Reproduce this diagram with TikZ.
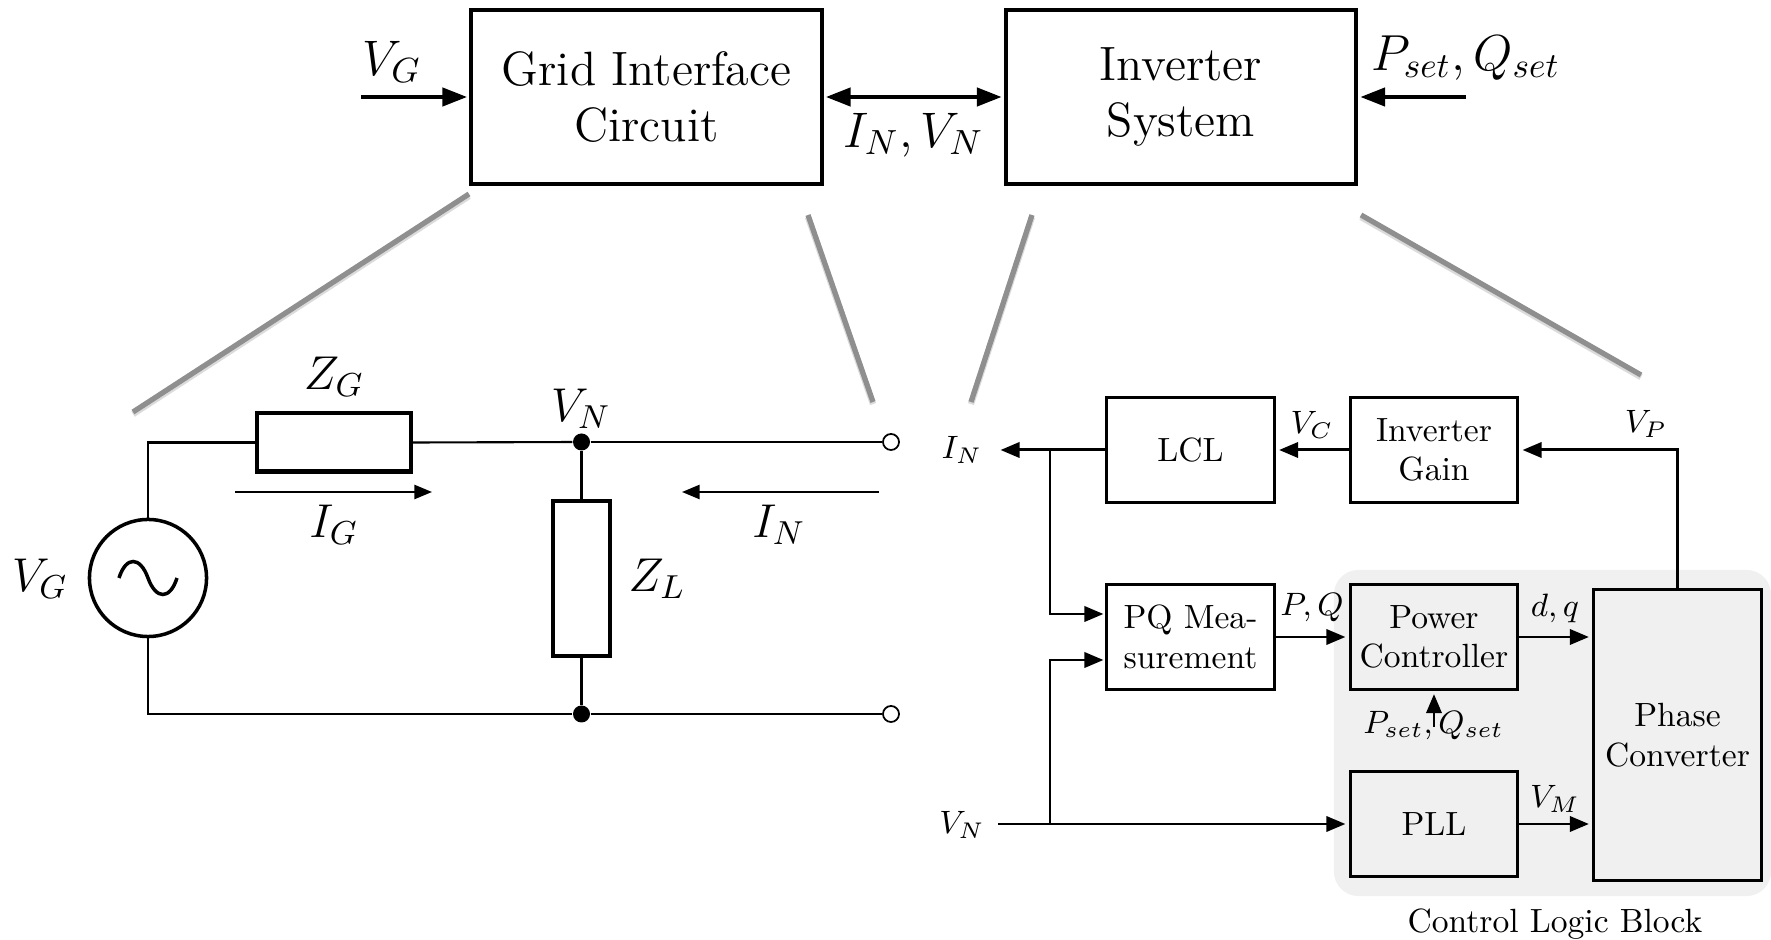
\RequirePackage{fix-cm}
\documentclass[tikz,border=0pt]{standalone}
\usepackage{amsmath}
\usepackage{xcolor}
\usetikzlibrary{arrows.meta}

\definecolor{linkgray}{HTML}{8F8F8F}
\definecolor{blockgray}{HTML}{F0F0F0}

\tikzset{
    bigfont/.style={font=\fontsize{13.7}{16}\selectfont},
    topmath/.style={font=\fontsize{14.2}{16}\selectfont, inner sep=0pt},
    bigmath/.style={font=\fontsize{13.5}{16}\selectfont, inner sep=0pt},
    smallfont/.style={font=\fontsize{9.55}{11.3}\selectfont},
    smallmath/.style={font=\fontsize{9.2}{11}\selectfont, inner sep=0pt},
    topbox/.style={draw, line width=1.1pt, inner sep=0pt, minimum width=3.5cm, minimum height=1.74cm, align=center, bigfont},
    logicbox/.style={draw, line width=0.85pt, inner sep=0pt, minimum width=1.67cm, minimum height=1.04cm, align=center, smallfont},
    impedance/.style={draw, line width=1.15pt, inner sep=0pt},
    toparrow/.style={line width=1pt, -{Triangle[length=7pt, width=5.2pt]}, shorten >=0.7pt},
    botharrow/.style={line width=1pt, {Triangle[length=7pt, width=5.2pt]}-{Triangle[length=7pt, width=5.2pt]}, shorten >=0.7pt, shorten <=0.7pt},
    logicarrow/.style={line width=0.85pt, -{Triangle[length=5.4pt, width=4.3pt]}, shorten >=1pt},
    currentarrow/.style={line width=0.6pt, -{Triangle[length=5pt, width=4pt]}},
    wire/.style={line width=0.6pt},
    zoomline/.style={linkgray, line width=1.5pt, preaction={draw=black!14, line width=1.8pt, transform canvas={yshift=-0.6pt}}},
    joint/.style={circle, fill=black, inner sep=0pt, minimum size=0.17cm},
    terminal/.style={circle, draw, fill=white, line width=0.5pt, inner sep=0pt, minimum size=0.16cm}
}

\begin{document}
\begin{tikzpicture}[x=0.01cm, y=-0.01cm]
        \useasboundingbox (0,0) rectangle (1771,940);

        % Top level blocks
        \node[topbox] (grid) at (646.5,97) {Grid Interface\\Circuit};
        \node[topbox] (inverter) at (1181,97) {Inverter\\System};
        \coordinate (vgin) at (361,97);
        \coordinate (psetin) at (1466,97);
        \draw[toparrow] (vgin) -- (grid.west);
        \draw[toparrow] (psetin) -- (inverter.east);
        \draw[botharrow] (grid.east) -- (inverter.west);
        \node[topmath] (vgtop) at (392,62) {$V_G$};
        \node[topmath, font=\fontsize{14.4}{16}\selectfont] (psettop) at (1466,58) {$P_{set},Q_{set}$};
        \node[topmath] (intop) at (913.5,135) {$I_N,V_N$};

        % Zoom lines
        \coordinate (zoomA) at (469,194);
        \coordinate (zoomB) at (133,412);
        \coordinate (zoomC) at (808,215);
        \coordinate (zoomD) at (873,402);
        \coordinate (zoomE) at (1032,215);
        \coordinate (zoomF) at (971,402);
        \coordinate (zoomG) at (1361,215);
        \coordinate (zoomH) at (1641,375);
        \draw[zoomline] (zoomA) -- (zoomB);
        \draw[zoomline] (zoomC) -- (zoomD);
        \draw[zoomline] (zoomE) -- (zoomF);
        \draw[zoomline] (zoomG) -- (zoomH);

        % Grid circuit
        \node[circle, draw, line width=1pt, inner sep=0pt, minimum size=1.17cm] (source) at (148,578) {};
        \node[impedance, minimum width=1.54cm, minimum height=0.58cm] (zg) at (334,442.5) {};
        \node[impedance, minimum width=0.575cm, minimum height=1.54cm] (zl) at (581.5,578.5) {};
        \node[joint] (topdot) at (581.5,442) {};
        \node[joint] (botdot) at (581.5,714) {};
        \node[terminal] (topend) at (891,442) {};
        \node[terminal] (botend) at (891,714) {};
        \draw[wire] (source.north) |- (zg.west);
        \draw[wire] (zg.east) -- (topdot);
        \draw[wire] (topdot) -- (topend);
        \draw[wire] (source.south) |- (botdot);
        \draw[wire] (botdot) -- (botend);
        \draw[wire] (topdot) -- (zl.north);
        \draw[wire] (zl.south) -- (botdot);
        \draw[line width=1pt] (119,578) .. controls (126,556) and (140,556) .. (148,578) .. controls (156,600) and (170,600) .. (177,578);

        % Currents
        \coordinate (igfrom) at (235,492);
        \coordinate (igto) at (432,492);
        \coordinate (infrom) at (879,492);
        \coordinate (into) at (682,492);
        \draw[currentarrow] (igfrom) -- (igto);
        \draw[currentarrow] (infrom) -- (into);

        % Circuit labels
        \node[bigmath] (zglabel) at (334,377) {$Z_G$};
        \node[bigmath] (vnlabel) at (581,409) {$V_N$};
        \node[bigmath] (iglabel) at (334,525) {$I_G$};
        \node[bigmath] (inlabel) at (779,525) {$I_N$};
        \node[bigmath] (vglabel) at (40,579) {$V_G$};
        \node[bigmath] (zllabel) at (657,579) {$Z_L$};

        % Control logic
        \node[fill=blockgray, rounded corners=7pt, inner sep=0pt, minimum width=4.37cm, minimum height=3.26cm] (logic) at (1552.5,733) {};
        \node[smallfont] (logiclabel) at (1555,924) {Control Logic Block};
        \node[logicbox] (lcl) at (1190.5,450) {LCL};
        \node[logicbox] (gain) at (1434,450) {Inverter\\Gain};
        \node[logicbox] (pq) at (1190.5,637) {PQ Mea-\\surement};
        \node[logicbox] (power) at (1434,637) {Power\\Controller};
        \node[logicbox] (pll) at (1434,824) {PLL};
        \node[logicbox, minimum height=2.9cm] (phase) at (1677.5,735) {Phase\\Converter};

        % Logic connections
        \coordinate (inout) at (997,450);
        \coordinate (vnin) at (998,824);
        \coordinate (branchI) at (1050,450);
        \coordinate (branchV) at (1050,824);
        \coordinate (pqup) at (1107,614);
        \coordinate (pqdown) at (1107,660);
        \coordinate (psetfrom) at (1434,727);
        \draw[logicarrow] (lcl.west) -- (inout);
        \draw[logicarrow] (gain.west) -- (lcl.east);
        \draw[logicarrow] (phase.north) |- (gain.east);
        \draw[logicarrow] (pq.east) -- (power.west);
        \draw[logicarrow] (power.east) -- (power.east -| phase.west);
        \draw[logicarrow] (pll.east) -- (pll.east -| phase.west);
        \draw[logicarrow] (vnin) -- (pll.west);
        \draw[logicarrow] (branchI) |- (pqup);
        \draw[logicarrow] (branchV) |- (pqdown);
        \draw[logicarrow] (psetfrom) -- (power.south);

        % Logic labels
        \node[smallmath] (inright) at (962,450) {$I_N$};
        \node[smallmath] (vnright) at (962,825) {$V_N$};
        \node[smallmath] (vclabel) at (1312,425) {$V_C$};
        \node[smallmath] (vplabel) at (1646,424) {$V_P$};
        \node[smallmath] (pqlabel) at (1312,608) {$P,Q$};
        \node[smallmath] (dqlabel) at (1555,608) {$d,q$};
        \node[smallmath] (vmlabel) at (1555,799) {$V_M$};
        \node[smallmath] (psetlabel) at (1433.5,726) {$P_{set},Q_{set}$};
    \end{tikzpicture}
\end{document}
